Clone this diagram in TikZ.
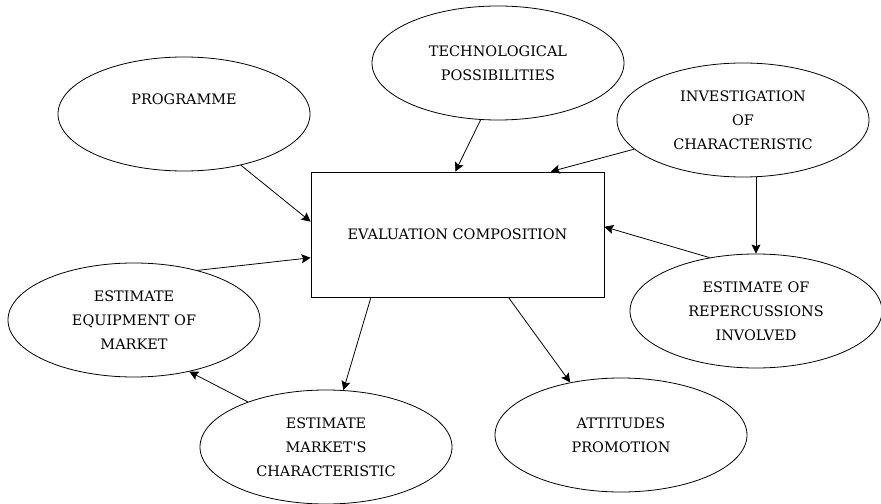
\documentclass[tikz,border=0pt]{standalone}
\usepackage{fontspec}
\setmainfont{DejaVu Serif}
\usetikzlibrary{shapes.geometric,arrows.meta}

\tikzset{
	bubble/.style={ellipse,draw,minimum width=252bp,minimum height=114bp,inner sep=0pt,align=center},
	core/.style={rectangle,draw,minimum width=293bp,minimum height=125bp,inner sep=0pt}
}

\begin{document}
\begin{tikzpicture}[->,>={Stealth[length=9bp,width=9bp,inset=1.5bp]},x=1bp,y=-1bp,line width=0.8pt,font=\fontsize{14.5}{24}\selectfont]
		\useasboundingbox (0,0) rectangle (881,504);
		\node[core] (eval) at (457.5,234.5) {EVALUATION COMPOSITION};
		\node[bubble] (prog) at (184,114) {\raisebox{9bp}[0pt][0pt]{PROGRAMME}};
		\node[bubble] (tech) at (498,63) {TECHNOLOGICAL\\POSSIBILITIES};
		\node[bubble] (inv) at (743,120) {INVESTIGATION\\OF\\CHARACTERISTIC};
		\node[bubble] (rep) at (756,311) {ESTIMATE OF\\REPERCUSSIONS\\INVOLVED};
		\node[bubble] (att) at (621,435) {ATTITUDES\\PROMOTION};
		\node[bubble] (mkt) at (326,447) {ESTIMATE\\MARKET\textquotesingle S\\CHARACTERISTIC};
		\node[bubble] (equip) at (134,320) {ESTIMATE\\EQUIPMENT OF\\MARKET};
	
		\draw 	(prog.-42) -- (eval.175);
		\draw 	(tech.-107) -- (eval.92);
		\draw 	(inv.-165) -- (eval.34);
		\draw 	(inv.south -| rep.north) -- (rep.north);
		\draw 	(rep.131) -- (eval.3);
		\draw 	(equip.38) -- (eval.189);
		\draw 	(eval.216) -- (mkt.73);
		\draw 	(mkt.150) -- (equip.-43);
		\draw 	(eval.-51) -- (att.134);
	\end{tikzpicture}
\end{document}
